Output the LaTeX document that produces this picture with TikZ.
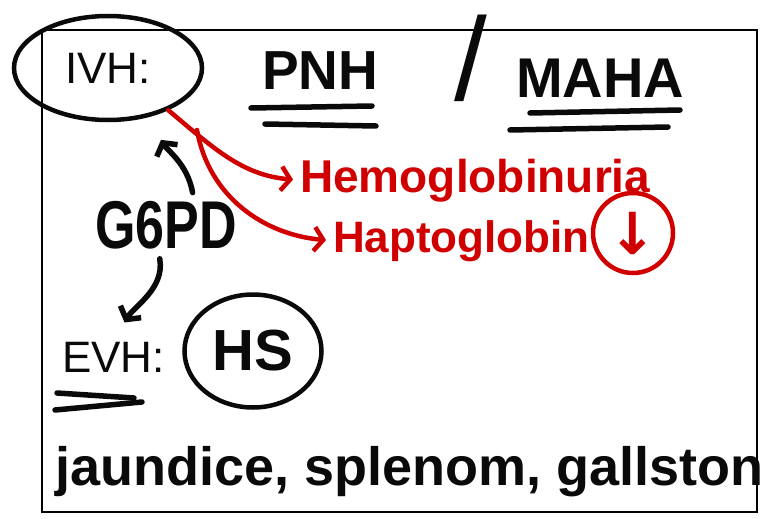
\documentclass[tikz,border=0pt]{standalone}
\usepackage{fontspec}
\setmainfont{Liberation Sans}
\newfontfamily\arrowfont{DejaVu Sans}
\usepackage{tikz}
\usetikzlibrary{arrows.meta,shapes.geometric}
\definecolor{inkRed}{HTML}{D00000}
\definecolor{inkBlack}{HTML}{0A0A0A}
\newcommand{\handsz}[1]{\fontsize{#1}{#1}\selectfont\bfseries}
\newcommand{\typesz}[1]{\fontsize{#1}{#1}\selectfont}

\begin{document}
\begin{tikzpicture}[
    x=1pt, y=-1pt,
    >={Straight Barb[length=9pt,width=24pt]},
    hand/.style={font=\handsz{#1}, text=inkBlack, inner sep=0pt},
    typed/.style={font=\typesz{#1}, text=inkBlack, inner sep=0pt},
    ring/.style={draw=#1, ellipse, line width=4.5pt, inner sep=0pt},
    pen/.style={line width=5.5pt, line cap=round, line join=round, draw=inkBlack},
    redpen/.style={line width=4.5pt, line cap=round, line join=round, draw=inkRed},
  ]
  \clip (0,0) rectangle (769,519);

  % --- frame ---
  \draw[line width=1.3pt] (42,30) rectangle (757,512);

  % --- headings ---
  \node[ring=inkBlack, minimum width=188, minimum height=104, typed=44] (ivh)
    at (108,68) {IVH:};
  \node[hand=55, anchor=base west] (pnh) at (262,90) {PNH};
  \node[typed=118, anchor=center] (slash) at (471,58) {/};
  \node[hand=56, anchor=base west] (maha) at (516,97) {MAHA};

  % --- underlines ---
  \draw[pen] (251,108) -- (372,106);
  \draw[pen] (265,124) -- (376,126);
  \draw[pen] (530,113) -- (680,110);
  \draw[pen] (510,130) -- (668,127);

  % --- intravascular findings ---
  \node[hand=46, anchor=base west, text=inkRed] (hemo) at (300,192)
    {Hemoglobinuria};
  \node[hand=44, anchor=base west, text=inkRed] (hapto) at (333,252)
    {Haptoglobin};
  \node[ring=inkRed, minimum size=80, font=\arrowfont\bfseries\fontsize{58}{58}\selectfont,
        text=inkRed] (down) at (633,233) {↓};

  \coordinate (ivhtail) at (197,130);
  \draw[redpen, ->, shorten >=7pt] (ivh.-35) to[out=-40, in=175] (hemo.west);
  \draw[redpen, ->, shorten >=7pt] (ivhtail) to[out=-80, in=175] (hapto.west);

  % --- G6PD ---
  \node[hand=52, anchor=base west, yscale=1.3] (gpd) at (95,248) {G6PD};
  \draw[pen, ->, shorten <=8pt, shorten >=26pt]
    ([xshift=28pt]gpd.north) to[out=100, in=-60] (ivh.-51);

  % --- extravascular ---
  \node[typed=44, anchor=base west] (evh) at (62,372) {EVH:};
  \node[ring=inkBlack, minimum width=137, minimum height=113, hand=58] (hs)
    at (253,351) {HS};
  \draw[pen, ->, shorten <=10pt, shorten >=22pt]
    ([xshift=-8pt]gpd.south) to[out=-80, in=60] (evh.north);
  \draw[pen] (57,393) -- (134,398);
  \draw[pen] (55,410) -- (142,402);

  % --- findings ---
  \node[hand=54, anchor=base west] (sympt) at (55,485)
    {jaundice, splenom, gallston};

\end{tikzpicture}
\end{document}
